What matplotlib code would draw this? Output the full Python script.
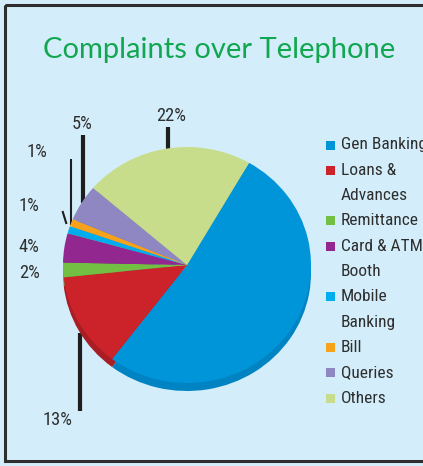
import matplotlib
matplotlib.use("Agg")
import matplotlib.pyplot as plt
from matplotlib.patches import Rectangle
from matplotlib.lines import Line2D

W, H = 423, 466

categories = ["Gen Banking", "Loans &\nAdvances", "Remittance", "Card & ATM\nBooth",
              "Mobile\nBanking", "Bill", "Queries", "Others"]
shares = [52, 13, 2, 4, 1, 1, 5, 22]
colors = ["#0095d9", "#cc2229", "#72bf44", "#92278f",
          "#00aeef", "#f7a21b", "#8e87c1", "#c7dd8c"]
rims = ["#0083c2", "#a91d24", "#5ea338", "#7a2077",
        "#0096cf", "#d98c12", "#7771a8", "#adc376"]

bg = "#d3eefa"
ink = "#2e2e2e"
fnt = ["Roboto Condensed", "Arial Narrow", "Liberation Sans Narrow", "Roboto", "DejaVu Sans"]

fig = plt.figure(figsize=(W / 100, H / 100), dpi=100, facecolor=bg)

# pixel-space overlay for frame, texts and leaders
base = fig.add_axes([0, 0, 1, 1])
base.set_xlim(0, W)
base.set_ylim(H, 0)
base.axis("off")
base.add_patch(Rectangle((5, 5), W, H - 10, fill=False, ec=ink, lw=2.2))

base.text(219, 50, "Complaints over Telephone", color="#12a650", fontsize=21,
          family=["Lato", "DejaVu Sans"], ha="center", va="center")

# pie, slightly flattened with a thin rim underneath
cx, cy, rx, ry, depth = 187, 265, 124, 118, 8
pax = fig.add_axes([(cx - rx) / W, (H - cy - ry - depth) / H, 2 * rx / W, (2 * ry + depth) / H])
pax.pie(shares, colors=rims, startangle=60, counterclock=False,
        center=(0, -depth / ry), radius=1)
pax.pie(shares, colors=colors, startangle=60, counterclock=False,
        center=(0, 0), radius=1)
pax.set_xlim(-1, 1)
pax.set_ylim(-1 - depth / ry, 1)
pax.set_aspect("auto")
pax.axis("off")

# percentage labels
label_xy = [(233, 303), (57, 420), (30, 273), (29, 247), (29, 206), (37, 152), (82, 124), (171, 116)]
for v, (x, y) in zip(shares, label_xy):
    base.text(x, y, f"{v}%", fontsize=13.2, family=fnt, color=ink, ha="center", va="center")

# leader lines
leaders = [((168, 168), (127, 150), 3.0),
           ((83, 83), (135, 203), 3.0),
           ((71, 71), (159, 225), 1.5),
           ((62.5, 66.5), (211, 224), 1.5),
           ((80, 80), (333, 411), 3.0)]
for xs, ys, lw in leaders:
    base.add_line(Line2D(xs, ys, color="#1e1e1e", lw=lw, solid_capstyle="butt"))

# legend
row_y = 145
step = 25.3
for name, c in zip(categories, colors):
    base.add_patch(Rectangle((326, row_y - 4.5), 9, 9, color=c, lw=0))
    for line in name.split("\n"):
        base.text(341, row_y, line, fontsize=12.5, family=fnt, color=ink, ha="left", va="center")
        row_y += step

fig.savefig("out.png", dpi=100, facecolor=bg)
